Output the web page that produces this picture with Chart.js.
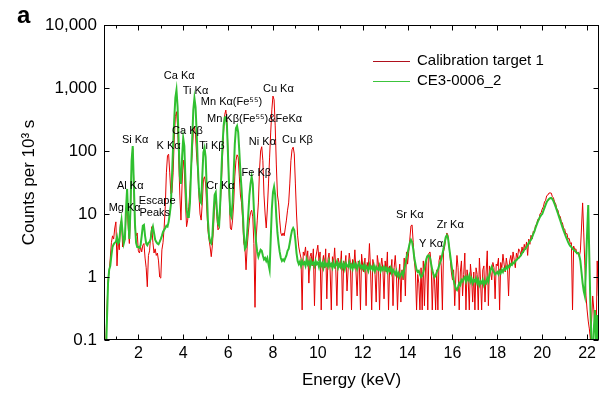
<!DOCTYPE html>
<html>
<head>
<meta charset="utf-8">
<script src="https://cdn.jsdelivr.net/npm/chart.js@4.4.1/dist/chart.umd.min.js"></script>
<style>
  html, body { margin: 0; padding: 0; background: #fff; }
  canvas { display: block; }
</style>
</head>
<body>
<canvas id="grafico" width="613" height="399"></canvas>
<script>
// energy grid of both spectra (keV)
const energyStart = 0.5;
const energyStep = 0.05;

// Calibration target 1, counts per 10^3 s, one line per keV
const calibrationCounts = [
  0.05, 0.08, 0.3, 0.9, 1.2, 2.0, 3.5, 4.5, 4.0, 6.0,
  7.5, 1.5, 3.8, 2.7, 7.0, 8.0, 3.0, 3.6, 3.9, 9, 15, 6, 3.4, 10, 60, 110, 30, 6.3, 4.5, 5.0,
  2.6, 2.4, 3.0, 2.5, 3.2, 3.4, 2.0, 1.4, 0.7, 2.2, 2.6, 4.5, 6.3, 3.5, 2.4, 2.8, 2.2, 2.4, 1.8, 1.0,
  0.96, 2.7, 3.5, 6, 13, 45, 85, 89, 45, 21, 22, 45, 150, 350, 420, 250, 72, 20, 8, 30,
  72, 50, 15, 6.3, 8, 13, 25, 50, 90, 200, 245, 180, 80, 50, 20, 10, 8, 15, 35, 39,
  30, 12, 5.6, 4.0, 3.0, 2.1, 3.2, 6, 14, 17, 9, 5.6, 6, 12, 30, 80, 200, 380, 446, 300,
  90, 20, 6, 5.6, 8, 15, 40, 70, 87, 80, 40, 20, 15, 8, 3.4, 3.0, 1.3, 3.0, 5, 8,
  10.5, 11.5, 9, 3.4, 0.33, 4, 8, 15, 50, 100, 117, 70, 20, 10, 6, 12, 30, 80, 200, 450,
  745, 650, 250, 60, 20, 15, 8, 5, 4.5, 5, 4.5, 6, 8, 11.5, 15, 30, 70, 105, 115, 90,
  30, 10, 4.5, 3, 2.4, 2.0, 0.3, 2.5, 2.2, 3.0, 1.8, 2.6, 0.8, 2.1, 2.4, 1.5, 2.8, 0.35, 2.0, 2.5,
  3.2, 1.8, 2.5, 0.3, 1.6, 2.2, 1.4, 2.8, 0.45, 1.9, 2.4, 1.2, 0.3, 2.1, 1.6, 2.9, 1.3, 0.35, 2.0, 1.7,
  1.4, 2.6, 0.3, 1.8, 1.5, 2.2, 0.6, 1.3, 2.4, 1.7, 0.3, 1.9, 1.4, 2.7, 1.2, 0.5, 1.8, 1.6, 0.3, 2.3,
  1.5, 1.2, 2.0, 0.35, 1.7, 1.4, 3.4, 1.3, 0.3, 1.9, 1.5, 1.1, 0.4, 2.2, 1.6, 0.3, 1.4, 2.0, 1.3, 0.45,
  1.8, 1.2, 2.5, 0.3, 1.5, 1.1, 1.9, 0.35, 1.4, 2.2, 1.2, 0.3, 1.0, 1.6, 0.4, 1.3, 0.9, 2.0, 0.5, 2.5,
  1.6, 2.5, 4.0, 6.5, 6.7, 3.5, 1.8, 1.2, 0.3, 1.1, 0.8, 0.3, 1.4, 0.3, 1.8, 0.35, 1.5, 2.1, 0.3, 2.4,
  2.5, 1.6, 0.3, 1.2, 0.9, 0.3, 1.3, 0.3, 1.8, 2.2, 1.5, 0.3, 2.5, 3.0, 4.0, 5.0, 4.6, 3.0, 2.0, 1.2,
  0.9, 1.3, 0.35, 1.0, 2.2, 1.4, 0.3, 1.2, 1.8, 0.5, 1.1, 2.4, 0.3, 1.3, 0.9, 0.3, 1.6, 1.0, 0.4, 1.2,
  0.3, 1.4, 1.1, 0.3, 2.0, 0.9, 0.3, 1.3, 1.5, 0.4, 1.2, 2.6, 0.35, 1.5, 1.2, 0.9, 1.7, 1.4, 0.45, 1.6,
  1.5, 2.0, 0.3, 1.7, 1.4, 2.3, 1.6, 1.2, 2.0, 1.5, 0.5, 1.8, 2.2, 1.6, 2.5, 1.9, 1.4, 2.4, 2.0, 2.8,
  2.6, 2.2, 3.0, 2.4, 3.3, 2.7, 3.6, 2.2, 4.0, 3.3, 4.6, 4.0, 5.3, 5.0, 6.6, 6.8, 8.2, 8.0, 10, 10.5,
  12, 13, 15.5, 16.5, 19.5, 20, 21.5, 21.6, 21.5, 19, 18, 15.5, 14.5, 12, 11.5, 9.5, 9.2, 7.6, 7.2, 6.0,
  5.8, 4.8, 4.9, 4.0, 4.1, 3.4, 3.5, 0.3, 3.1, 2.7, 2.8, 2.3, 2.5, 2.1, 2.6, 6, 15, 5, 1.5, 0.5,
  0.3, 0.2, 0.15, 0.1, 0.2, 0.5, 0.3, 0.15, 0.1, 1.8, 0.5
];

// CE3-0006_2, counts per 10^3 s, same grid
const ce3Counts = [
  0.05, 0.05, 0.2, 0.8, 1.3, 1.5, 2.2, 3.0, 3.3, 3.5,
  3.6, 4.3, 3.4, 3.6, 6.0, 8.0, 5.0, 3.4, 4.0, 12, 25, 9, 4.0, 12, 70, 120, 30, 7, 3.5, 3.0,
  3.0, 2.9, 3.2, 4.5, 6.5, 6.7, 4.5, 3.4, 3.2, 3.5, 3.6, 4.0, 5.5, 6.3, 5.0, 3.9, 3.6, 3.4, 3.3, 3.6,
  4.0, 4.5, 5.2, 5.6, 6.0, 6.5, 6.3, 7.5, 10, 14, 40, 120, 320, 700, 930, 500, 130, 40, 30, 80,
  160, 120, 35, 12, 9, 9, 15, 50, 150, 450, 690, 500, 200, 60, 25, 16, 15, 40, 95, 112,
  80, 25, 8, 4.5, 3.6, 3.4, 4.5, 10, 20, 22, 12, 7, 6.5, 15, 45, 120, 250, 340, 345, 250,
  80, 25, 10, 9, 15, 45, 130, 230, 250, 200, 100, 45, 25, 12, 5, 2.8, 3, 5, 10, 20,
  30, 39, 30, 12, 6, 3.5, 2.5, 2.1, 2.4, 2.7, 2.6, 2.2, 1.9, 2.0, 1.8, 2.0, 1.6, 1.3, 4, 12,
  22, 27, 20, 9, 5, 3.4, 2.5, 2.0, 1.8, 1.9, 1.8, 2.0, 2.2, 2.6, 2.8, 3.5, 4.5, 5.5, 6, 5.5,
  3.8, 2.4, 1.8, 1.6, 1.75, 1.5, 1.8, 1.6, 1.7, 1.5, 1.9, 1.6, 1.75, 1.45, 1.8, 1.6, 1.7, 1.5, 1.8, 1.6,
  1.7, 1.45, 1.8, 1.5, 1.65, 1.4, 1.75, 1.5, 1.6, 1.45, 1.8, 1.5, 1.6, 1.4, 1.7, 1.45, 1.55, 1.75, 1.4, 1.6,
  1.45, 1.7, 1.4, 1.6, 1.35, 1.65, 1.5, 1.45, 1.7, 1.4, 1.55, 1.35, 1.65, 1.45, 1.6, 1.35, 1.55, 1.7, 1.4, 1.5,
  1.35, 1.55, 1.3, 1.5, 1.4, 1.25, 1.55, 1.35, 1.45, 1.3, 1.5, 1.25, 1.45, 1.35, 1.3, 1.5, 1.25, 1.4, 1.3, 1.45,
  1.3, 1.4, 1.2, 1.35, 1.25, 1.4, 1.15, 1.3, 1.2, 1.1, 1.25, 1.05, 1.15, 1.0, 1.1, 1.2, 1.05, 1.3, 1.6, 2.0,
  2.4, 2.9, 3.5, 3.9, 3.6, 2.8, 2.0, 1.6, 1.3, 1.2, 1.25, 1.1, 1.0, 1.05, 1.2, 1.4, 1.7, 2.0, 2.2, 2.2,
  2.0, 1.6, 1.3, 1.1, 1.0, 1.05, 1.2, 1.3, 1.5, 1.7, 1.9, 2.3, 2.8, 3.5, 4.3, 4.6, 4.2, 3.0, 2.2, 1.6,
  1.2, 0.9, 0.75, 0.65, 0.62, 0.7, 0.8, 0.75, 0.9, 0.85, 0.95, 1.0, 0.85, 1.0, 0.9, 1.05, 0.85, 0.95, 0.8, 0.9,
  0.85, 0.95, 0.8, 0.9, 0.75, 0.85, 0.8, 0.9, 0.75, 0.85, 0.8, 0.95, 0.85, 1.1, 1.3, 1.45, 1.3, 1.2, 1.1, 1.15,
  1.2, 1.1, 1.25, 1.15, 1.3, 1.2, 1.35, 1.3, 1.45, 1.35, 1.5, 1.45, 1.6, 1.55, 1.7, 1.65, 1.8, 1.85, 1.95, 2.0,
  2.1, 2.2, 2.4, 2.5, 2.7, 2.8, 3.0, 3.2, 3.5, 3.7, 3.9, 4.3, 4.8, 5.3, 6.0, 6.7, 7.5, 8.2, 9.0, 9.6,
  10, 11.2, 12.5, 14, 15.5, 16.5, 17.3, 17.8, 18, 17.3, 16, 14.5, 13, 11.5, 10.2, 9.0, 8.0, 7.0, 6.2, 5.5,
  4.9, 4.4, 4.0, 3.6, 3.3, 3.1, 3.0, 2.8, 2.7, 2.6, 2.5, 2.4, 2.4, 2.2, 1.8, 1.2, 0.8, 0.6, 0.5, 1.5,
  5, 13.9, 2, 0.3, 0.08, 0.05, 0.15, 0.3, 0.1, 0.25, 0.08
];

const seriesNames = ['Calibration target 1', 'CE3-0006_2'];
const xTickLabels = [2, 4, 6, 8, 10, 12, 14, 16, 18, 20, 22];
const yTickValues = [0.1, 1, 10, 100, 1000, 10000];
const yTickLabels = ['0.1', '1', '10', '100', '1,000', '10,000'];

// peak annotations: text, energy (keV), counts where the text is centred
const peakLabels = [
  ['Ca Kα', 3.82, 1580],
  ['Ti Kα', 4.55, 890],
  ['Mn Kα(Fe⁵⁵)', 6.15, 600],
  ['Cu Kα', 8.24, 960],
  ['Mn Kβ(Fe⁵⁵)&FeKα', 7.18, 325],
  ['Ca Kβ', 4.19, 209],
  ['Si Kα', 1.86, 152],
  ['K Kα', 3.35, 120],
  ['Ti Kβ', 5.28, 120],
  ['Ni Kα', 7.53, 141],
  ['Cu Kβ', 9.09, 148],
  ['Fe Kβ', 7.26, 45],
  ['Al Kα', 1.64, 27.5],
  ['Cr Kα', 5.66, 27.5],
  ['Mg Kα', 1.39, 12.6],
  ['Escape', 2.84, 15.9],
  ['Peaks', 2.73, 10.5],
  ['Sr Kα', 14.1, 9.6],
  ['Y Kα', 15.05, 3.3],
  ['Zr Kα', 15.9, 6.6]
];

const fuente = "'Liberation Sans', Arial, Helvetica, sans-serif";

function aPuntos(counts) {
  return counts.map((c, i) => ({ x: +(energyStart + i * energyStep).toFixed(2), y: c }));
}

function esDecada(v) {
  const lg = Math.log10(v);
  return Math.abs(lg - Math.round(lg)) < 1e-6;
}

// box, inward ticks on all sides, peak names, legend and panel letter
const marco = {
  id: 'marco',
  afterDraw(chart) {
    const { ctx, chartArea: area, scales: { x, y } } = chart;
    const left = Math.round(area.left) + 0.5;
    const right = Math.round(area.right) - 0.5;
    const top = Math.round(area.top) + 0.5;
    const bottom = Math.round(area.bottom) - 0.5;
    ctx.save();
    ctx.strokeStyle = '#000';
    ctx.lineWidth = 1;
    ctx.strokeRect(left, top, right - left, bottom - top);
    ctx.beginPath();
    x.ticks.forEach(t => {
      const px = Math.round(x.getPixelForValue(t.value)) + 0.5;
      const len = t.value % 2 === 0 ? 5 : 3;
      ctx.moveTo(px, bottom); ctx.lineTo(px, bottom - len);
      ctx.moveTo(px, top); ctx.lineTo(px, top + len);
    });
    y.ticks.forEach(t => {
      const py = Math.round(y.getPixelForValue(t.value)) + 0.5;
      const len = esDecada(t.value) ? 5 : 3;
      ctx.moveTo(left, py); ctx.lineTo(left + len, py);
      ctx.moveTo(right, py); ctx.lineTo(right - len, py);
    });
    ctx.stroke();

    ctx.fillStyle = '#000';
    ctx.font = '11px ' + fuente;
    ctx.textAlign = 'center';
    ctx.textBaseline = 'middle';
    peakLabels.forEach(([texto, e, c]) => {
      ctx.fillText(texto, x.getPixelForValue(e), y.getPixelForValue(c));
    });

    ctx.font = '15px ' + fuente;
    ctx.textAlign = 'left';
    const colorLeyenda = ['#b0101c', '#3cc43c'];
    chart.data.datasets.forEach((ds, i) => {
      const ly = area.top + 36 + i * 20;
      ctx.strokeStyle = colorLeyenda[i];
      ctx.lineWidth = 1;
      ctx.beginPath();
      ctx.moveTo(area.right - 226, ly + 0.5);
      ctx.lineTo(area.right - 189, ly + 0.5);
      ctx.stroke();
      ctx.fillText(ds.label, area.right - 182, ly);
    });

    ctx.font = 'bold 24px ' + fuente;
    ctx.textBaseline = 'alphabetic';
    ctx.fillText('a', 17, 23);
    ctx.restore();
  }
};

new Chart(document.getElementById('grafico').getContext('2d'), {
  type: 'line',
  data: {
    datasets: [{
      label: seriesNames[0],
      data: aPuntos(calibrationCounts),
      borderColor: '#e40000',
      borderWidth: 1,
      pointRadius: 0,
      order: 1
    }, {
      label: seriesNames[1],
      data: aPuntos(ce3Counts),
      borderColor: '#30c030',
      borderWidth: 2,
      pointRadius: 0,
      order: 0
    }]
  },
  options: {
    responsive: false,
    animation: false,
    layout: { padding: { top: 25, right: 14, left: 0, bottom: 0 } },
    plugins: { legend: { display: false }, tooltip: { enabled: false } },
    scales: {
      x: {
        type: 'linear',
        min: 0.47,
        max: 22.53,
        grid: { display: false, drawTicks: false },
        border: { display: false },
        ticks: {
          stepSize: 1,
          includeBounds: false,
          autoSkip: false,
          maxRotation: 0,
          padding: 4,
          color: '#000',
          font: { family: fuente, size: 16 },
          callback: v => xTickLabels.includes(v) ? String(v) : ''
        },
        title: {
          display: true,
          text: 'Energy (keV)',
          color: '#000',
          font: { family: fuente, size: 17 },
          padding: { top: 0, bottom: 8 }
        },
        afterFit: s => { s.height = 59; }
      },
      y: {
        type: 'logarithmic',
        min: 0.1,
        max: 10000,
        grid: { display: false, drawTicks: false },
        border: { display: false },
        ticks: {
          autoSkip: false,
          padding: 7,
          color: '#000',
          font: { family: fuente, size: 17 },
          callback: v => {
            const i = yTickValues.findIndex(t => Math.abs(t - v) / t < 1e-6);
            return i >= 0 ? yTickLabels[i] : null;
          }
        },
        title: {
          display: true,
          text: 'Counts per 10³ s',
          color: '#000',
          font: { family: fuente, size: 17 },
          padding: { top: 19, bottom: 0 }
        },
        afterFit: s => { s.width = 104; }
      }
    }
  },
  plugins: [marco]
});
</script>
</body>
</html>
